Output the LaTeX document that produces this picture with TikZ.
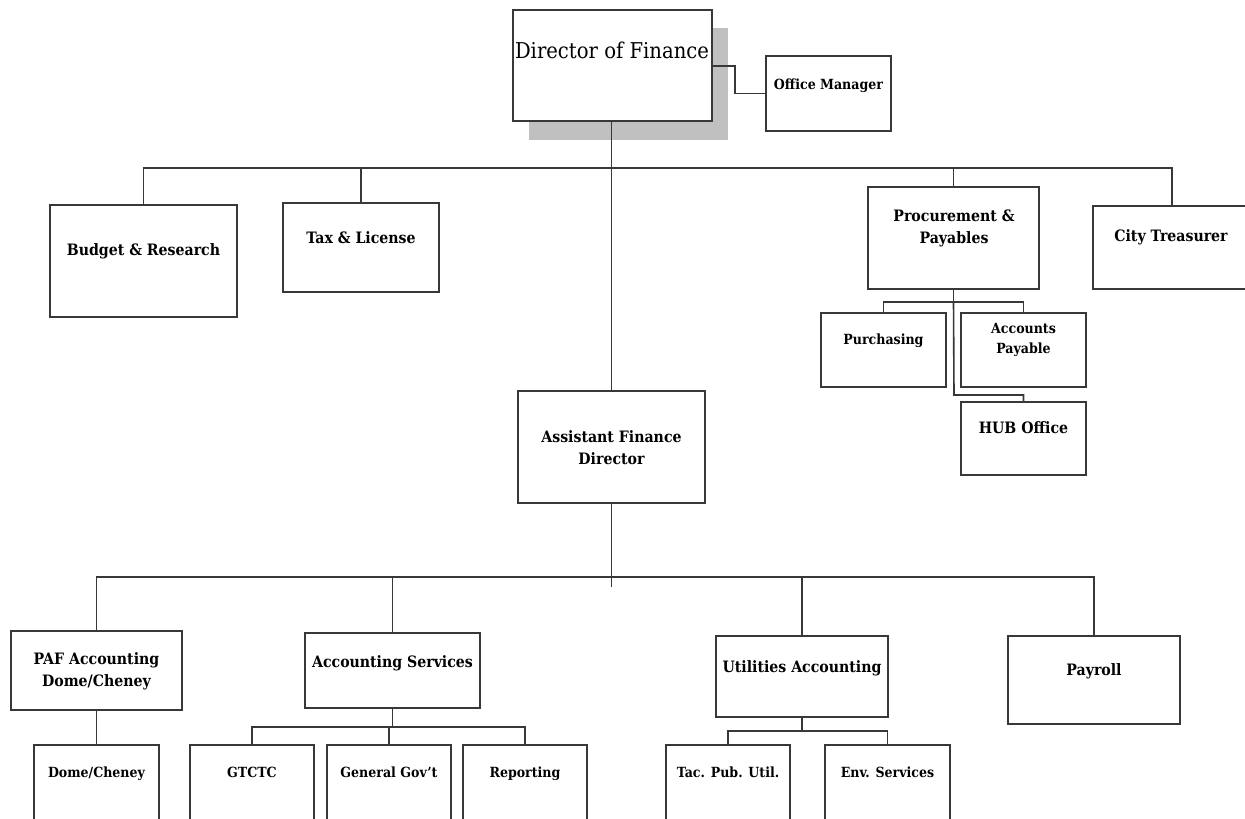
\documentclass[tikz,border=0pt]{standalone}
\usepackage{fontspec}
\setmainfont{DejaVu Serif Condensed}[BoldFont={DejaVu Serif Condensed Bold}]
\definecolor{linec}{HTML}{383838}
\definecolor{shadowc}{HTML}{C0C0C0}
\newcommand\orgbox[5]{\node[box, minimum width={#4-#2}, minimum height={#5-#3}] (#1) at ({(#2+#4)/2},{(#3+#5)/2}) {};}
\begin{document}
\begin{tikzpicture}[x=1pt,y=-1pt,
  box/.style={draw=linec, line width=1.6pt, fill=white, inner sep=0pt},
  conn/.style={draw=linec, line width=1.6pt},
  lbl/.style={font=\bfseries\fontsize{15.7}{22}\selectfont, text=black, inner sep=0pt, align=center},
  lbls/.style={font=\bfseries\fontsize{14}{20}\selectfont, text=black, inner sep=0pt, align=center},
]
\useasboundingbox (0,0) rectangle (1245,819);
\clip (0,0) rectangle (1245,819);
% shadow
\fill[shadowc] (529,28) rectangle (728,140);
% boxes
\orgbox{dir}{513}{10}{712}{121}
\orgbox{om}{766}{56}{891}{131}
\orgbox{bud}{50}{205}{237}{317}
\orgbox{tax}{283}{203}{439}{292}
\orgbox{proc}{868}{187}{1039}{289}
\orgbox{ct}{1093}{206}{1251}{289}
\orgbox{pur}{821}{313}{946}{387}
\orgbox{ap}{961}{313}{1086}{387}
\orgbox{hub}{961}{402}{1086}{475}
\orgbox{asst}{518}{391}{705}{503}
\orgbox{paf}{11}{631}{182}{710}
\orgbox{acs}{305}{633}{480}{708}
\orgbox{ua}{716}{636}{888}{717}
\orgbox{pay}{1008}{636}{1180}{724}
\orgbox{dc}{34}{745}{159}{830}
\orgbox{gt}{190}{745}{314}{830}
\orgbox{gg}{327}{745}{451}{830}
\orgbox{rep}{463}{745}{587}{830}
\orgbox{tac}{666}{745}{790}{830}
\orgbox{env}{825}{745}{950}{830}
% labels
\node[font=\fontsize{21.8}{26}\selectfont, inner sep=0pt, anchor=base] (dirt) at (612,58) {Director of Finance};
\node[lbls, anchor=base] (omt) at (828.5,89) {Office Manager};
\node[lbl, anchor=base] (budt) at (143.5,255) {Budget \& Research};
\node[lbl, anchor=base] (taxt) at (361,243) {Tax \& License};
\node[lbl] (proct) at (954,228.5) {Procurement \&\\Payables};
\node[lbl, anchor=base] (ctt) at (1171,241) {City Treasurer};
\node[lbls, anchor=base] (purt) at (883.5,344) {Purchasing};
\node[lbls] (apt) at (1023.5,340) {Accounts\\Payable};
\node[lbl, anchor=base] (hubt) at (1023.5,433) {HUB Office};
\node[lbl] (asstt) at (611.5,447.5) {Assistant Finance\\Director};
\node[lbl] (paft) at (96.5,671) {PAF Accounting\\Dome/Cheney};
\node[lbl, anchor=base] (acst) at (392.5,667) {Accounting Services};
\node[lbl, anchor=base] (uat) at (802,672) {Utilities Accounting};
\node[lbl, anchor=base] (payt) at (1094,675) {Payroll};
\node[lbls, anchor=base] (dct) at (96.5,777) {Dome/Cheney};
\node[lbls, anchor=base] (gtt) at (252,777) {GTCTC};
\node[lbls, anchor=base] (ggt) at (389,777) {General Gov’t};
\node[lbls, anchor=base] (rept) at (525,777) {Reporting};
\node[lbls, anchor=base] (tact) at (728,777) {Tac. Pub. Util.};
\node[lbls, anchor=base] (envt) at (887.5,777) {Env. Services};
% connectors
\coordinate (tb) at (612,168);
\draw[conn] (bud.north) |- (tb) -| (ct.north);
\draw[conn] (tax.north) -- (tax.north |- tb);
\draw[conn] (proc.north) -- (proc.north |- tb);
\draw[conn] (asst.north) -- (asst.north |- dir.south);
\coordinate (omk) at (735,66);
\draw[conn] (dir.east |- omk) -- (omk) |- (om.west);
\coordinate (pb) at (954,302);
\draw[conn] (proc.south) -- (proc.south |- pb);
\draw[conn] (pur.north) |- (pb) -| (ap.north);
\coordinate (hk) at (954,395);
\draw[conn] (proc.south |- pb) -- (hk) -| (hub.north);
\coordinate (lb) at (611.5,577);
\coordinate (lbend) at (611.5,587);
\draw[conn] (asst.south) -- (lbend);
\draw[conn] (paf.north) |- (lb) -| (pay.north);
\draw[conn] (acs.north) -- (acs.north |- lb);
\draw[conn] (ua.north) -- (ua.north |- lb);
\draw[conn] (paf.south) -- (dc.north);
\coordinate (ab) at (392.5,727);
\draw[conn] (acs.south) -- (ab);
\draw[conn] (gt.north) |- (ab) -| (rep.north);
\draw[conn] (gg.north) -- (gg.north |- ab);
\coordinate (ub) at (802,731);
\draw[conn] (ua.south) -- (ub);
\draw[conn] (tac.north) |- (ub) -| (env.north);
\end{tikzpicture}
\end{document}
